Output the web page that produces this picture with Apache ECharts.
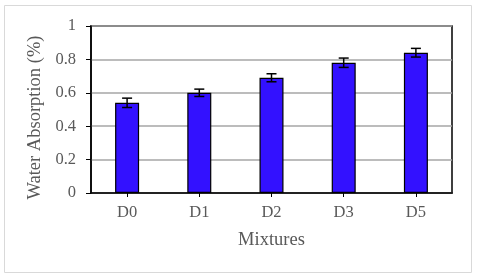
<!DOCTYPE html>
<html><head><meta charset="utf-8">
<script src="https://cdn.jsdelivr.net/npm/echarts@6/dist/echarts.min.js"></script>
<style>html,body{margin:0;padding:0;background:#fff}#c{width:480px;height:275px}</style>
</head><body><div id="c"></div>
<script>
const categories = ['D0', 'D1', 'D2', 'D3', 'D5'];
const values = [0.54, 0.60, 0.69, 0.78, 0.84];
const errors = [0.028, 0.022, 0.024, 0.028, 0.026];
const yTicks = [0, 0.2, 0.4, 0.6, 0.8, 1];

const chart = echarts.init(document.getElementById('c'), null, {renderer: 'canvas'});
const font = '"Liberation Serif", "Times New Roman", serif';
chart.setOption({
  animation: false,
  graphic: [{type: 'rect', shape: {x: 4.5, y: 5.5, width: 467, height: 267}, style: {fill: 'none', stroke: '#d9d9d9', lineWidth: 1}}],
  grid: {left: 91, right: 28, top: 26, bottom: 82, show: true, borderColor: '#000', borderWidth: 1.5},
  xAxis: {
    type: 'category', data: categories,
    name: 'Mixtures', nameLocation: 'middle', nameGap: 38,
    nameTextStyle: {fontFamily: font, fontSize: 18.5, color: '#595959'},
    axisLine: {lineStyle: {color: '#000', width: 1.5}},
    axisTick: {show: true, alignWithLabel: true, length: 4, lineStyle: {color: '#000'}},
    axisLabel: {fontFamily: font, fontSize: 16.5, color: '#595959', margin: 11}
  },
  yAxis: {
    type: 'value', min: 0, max: 1, interval: 0.2,
    name: 'Water Absorption (%)', nameLocation: 'middle', nameGap: 42,
    nameTextStyle: {fontFamily: font, fontSize: 18.5, color: '#595959', padding: [0, 16, 0, 0]},
    axisLine: {show: true, lineStyle: {color: '#000', width: 1.5}},
    axisTick: {show: true, length: 5, lineStyle: {color: '#000'}},
    axisLabel: {fontFamily: font, fontSize: 16.5, color: '#595959', margin: 15,
      formatter: v => String(parseFloat(v.toFixed(1)))},
    splitLine: {lineStyle: {color: '#a6a6a6', width: 1.5}}
  },
  series: [
    {type: 'bar', data: values, barWidth: 24,
     itemStyle: {color: '#3311FF', borderColor: '#000', borderWidth: 1.2}},
    {type: 'custom', data: values.map((v, i) => [i, v - errors[i], v + errors[i]]),
     z: 10,
     renderItem: function (params, api) {
       const lo = api.coord([api.value(0), api.value(1)]);
       const hi = api.coord([api.value(0), api.value(2)]);
       const hw = 5;
       const st = {stroke: '#000', lineWidth: 1.5};
       return {type: 'group', children: [
         {type: 'line', shape: {x1: lo[0], y1: lo[1], x2: hi[0], y2: hi[1]}, style: st},
         {type: 'line', shape: {x1: lo[0] - hw, y1: lo[1], x2: lo[0] + hw, y2: lo[1]}, style: st},
         {type: 'line', shape: {x1: hi[0] - hw, y1: hi[1], x2: hi[0] + hw, y2: hi[1]}, style: st}
       ]};
     }}
  ]
});
</script></body></html>
